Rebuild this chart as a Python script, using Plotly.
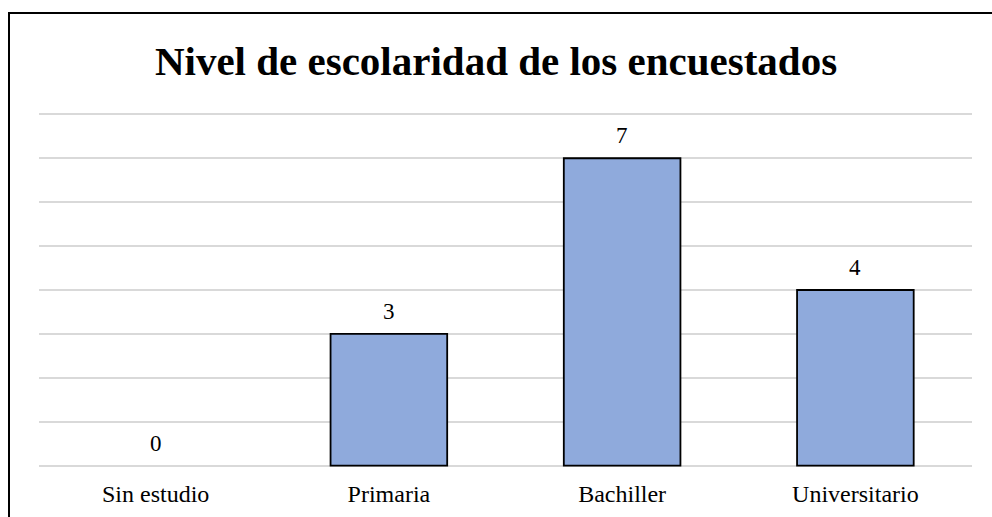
import plotly.graph_objects as go

categories = ["Sin estudio", "Primaria", "Bachiller", "Universitario"]
values = [0, 3, 7, 4]
title_text = "Nivel de escolaridad de los encuestados"

FONT = "Liberation Serif, Times New Roman, serif"

L, R, T, B = 39, 20, 113, 50
W, H = 992, 517
pw, ph = W - L - R, H - T - B

fig = go.Figure()
fig.add_trace(go.Bar(
    x=categories, y=values, width=0.5,
    marker=dict(color="#8faadc",
                line=dict(color="black", width=[0 if v == 0 else 1.8 for v in values])),
    hoverinfo="skip",
))
for c, v in zip(categories, values):
    fig.add_annotation(x=c, y=v, text=str(v), showarrow=False, yanchor="bottom",
                       yshift=8, font=dict(family=FONT, size=23, color="black"))

fig.update_layout(
    width=W, height=H,
    margin=dict(l=L, r=R, t=T, b=B, autoexpand=False),
    paper_bgcolor="white", plot_bgcolor="white",
    showlegend=False,
    title=dict(text="<b>" + title_text + "</b>", x=0.5, xanchor="center",
               y=1 - 61/517, yanchor="middle",
               font=dict(family=FONT, size=41, color="black")),
    xaxis=dict(showgrid=False, showline=False, zeroline=False, ticks="",
               automargin=False, ticklabelstandoff=10,
               tickfont=dict(family=FONT, size=24, color="black")),
    yaxis=dict(range=[-0.03, 8.03], tickvals=list(range(0, 9)), showgrid=True,
               gridcolor="#d9d9d9", gridwidth=1.5, zeroline=False, automargin=False,
               showticklabels=False, showline=False),
    shapes=[dict(type="rect", xref="paper", yref="paper",
                 x0=(9 - L) / pw, x1=1.1, y0=-0.3, y1=(H - B - 13) / ph,
                 line=dict(color="black", width=2), fillcolor="rgba(0,0,0,0)")],
)
fig.write_html("out.html", config={"displayModeBar": False},
               post_script="document.body.style.margin='0';")
